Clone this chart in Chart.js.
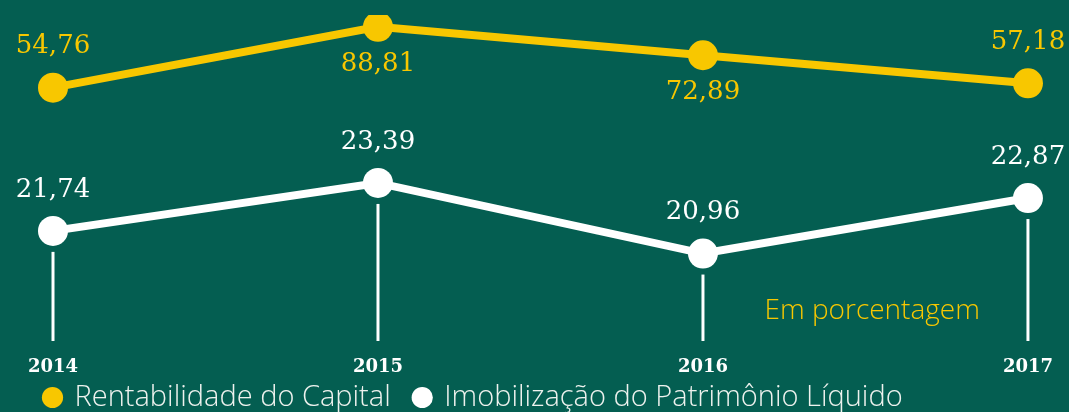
<!DOCTYPE html>
<html>
<head>
<meta charset="utf-8">
<script src="https://cdn.jsdelivr.net/npm/chart.js@4"></script>
<style>
  html, body { margin: 0; padding: 0; background: #045e51; }
  #wrap { width: 1069px; height: 412px; }
</style>
</head>
<body>
<div id="wrap"><canvas id="chart" width="1069" height="412"></canvas></div>
<script>
const years = ['2014', '2015', '2016', '2017'];
const rentabilidade = [54.76, 88.81, 72.89, 57.18];
const imobilizacao = [21.74, 23.39, 20.96, 22.87];
// where each value label sits relative to its point
const rentSide = ['above', 'below', 'below', 'above'];
const imobSide = ['above', 'above', 'above', 'above'];

const YELLOW = '#f8c700';
const WHITE = '#ffffff';

const fmt = v => v.toFixed(2).replace('.', ',');

// thin white drops from the white points down to the year labels
const dropLines = {
    id: 'dropLines',
    // let the year labels run under the legend box without being clipped
    afterLayout(chart) {
        chart.scales.x.bottom = chart.height;
    },
    beforeDatasetsDraw(chart) {
        const { ctx, chartArea } = chart;
        const meta = chart.getDatasetMeta(1);
        ctx.save();
        ctx.strokeStyle = WHITE;
        ctx.lineWidth = 3;
        meta.data.forEach(pt => {
            ctx.beginPath();
            ctx.moveTo(pt.x, pt.y + 21);
            ctx.lineTo(pt.x, chartArea.bottom);
            ctx.stroke();
        });
        ctx.restore();
    }
};

const valueLabels = {
    id: 'valueLabels',
    afterDatasetsDraw(chart) {
        const { ctx } = chart;
        const sides = [rentSide, imobSide];
        ctx.save();
        ctx.font = '26px "DejaVu Serif"';
        ctx.textAlign = 'center';
        ctx.textBaseline = 'middle';
        chart.data.datasets.forEach((ds, i) => {
            const meta = chart.getDatasetMeta(i);
            ctx.fillStyle = ds.borderColor;
            meta.data.forEach((pt, j) => {
                const dy = sides[i][j] === 'above' ? -41 : 37;
                ctx.fillText(fmt(ds.data[j]), pt.x, pt.y + dy);
            });
        });
        ctx.restore();
    }
};

const unitNote = {
    id: 'unitNote',
    afterDraw(chart) {
        const { ctx, chartArea } = chart;
        ctx.save();
        ctx.font = '300 28px "Open Sans"';
        ctx.fillStyle = YELLOW;
        ctx.textAlign = 'right';
        ctx.textBaseline = 'middle';
        ctx.fillText('Em porcentagem', chartArea.right - 48, 311);
        ctx.restore();
    }
};

const ctx = document.getElementById('chart');

new Chart(ctx, {
    type: 'line',
    data: {
        labels: years,
        datasets: [{
            label: 'Rentabilidade do Capital',
            data: rentabilidade,
            yAxisID: 'yR',
            borderColor: YELLOW,
            backgroundColor: YELLOW,
            borderWidth: 8,
            pointRadius: 15,
            pointBorderWidth: 0,
            pointBackgroundColor: YELLOW
        }, {
            label: 'Imobilização do Patrimônio Líquido',
            data: imobilizacao,
            yAxisID: 'yI',
            borderColor: WHITE,
            backgroundColor: WHITE,
            borderWidth: 8,
            pointRadius: 15,
            pointBorderWidth: 0,
            pointBackgroundColor: WHITE
        }]
    },
    options: {
        responsive: false,
        animation: false,
        layout: { padding: { left: 21, right: 0, top: 0, bottom: -10 } },
        plugins: {
            legend: {
                position: 'bottom',
                align: 'start',
                labels: {
                    usePointStyle: true,
                    pointStyle: 'circle',
                    boxWidth: 15,
                    boxHeight: 15,
                    padding: 24,
                    color: '#eef2ee',
                    font: { family: 'Open Sans', size: 29, weight: '300' },
                    generateLabels(chart) {
                        return chart.data.datasets.map((ds, i) => ({
                            text: ds.label,
                            fillStyle: ds.backgroundColor,
                            strokeStyle: ds.backgroundColor,
                            lineWidth: 0,
                            pointStyle: 'circle',
                            fontColor: '#eef2ee',
                            datasetIndex: i
                        }));
                    }
                }
            },
            tooltip: { enabled: false }
        },
        scales: {
            x: {
                offset: false,
                grid: { display: false, drawTicks: false },
                border: { display: false },
                ticks: {
                    color: WHITE,
                    padding: 16,
                    font: { family: 'DejaVu Serif', size: 18, weight: 'bold' }
                },
                afterFit(scale) { scale.height = 18; }
            },
            yR: {
                position: 'left',
                min: -87,
                max: 95.4,
                grid: { display: false },
                border: { display: false },
                ticks: { display: false },
                afterFit(scale) { scale.width = 32; }
            },
            yI: {
                position: 'right',
                min: 17.95,
                max: 29.17,
                grid: { display: false },
                border: { display: false },
                ticks: { display: false },
                afterFit(scale) { scale.width = 41; }
            }
        }
    },
    plugins: [dropLines, valueLabels, unitNote]
});
</script>
</body>
</html>
